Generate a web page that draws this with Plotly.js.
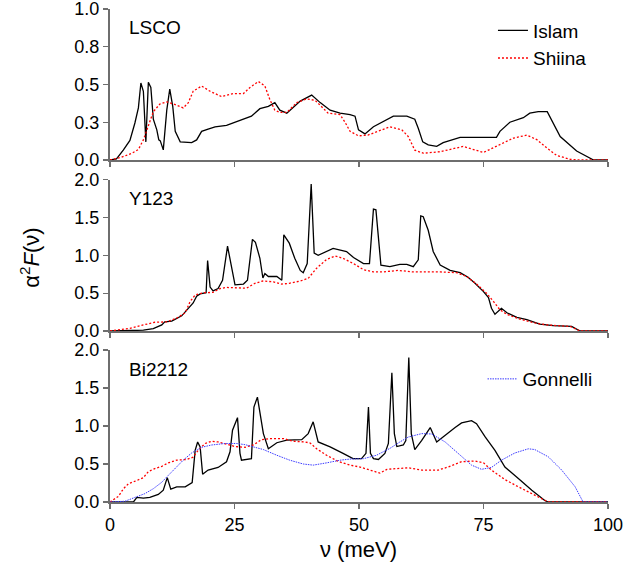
<!DOCTYPE html>
<html>
<head>
<meta charset="utf-8">
<script src="https://cdn.plot.ly/plotly-3.0.1.min.js"></script>
<style>html,body{margin:0;padding:0;background:#fff;}#chart{width:641px;height:571px;}</style>
</head>
<body>
<div id="chart"></div>
<script>
// ---- data ----
const panelNames = ["LSCO", "Y123", "Bi2212"];
const seriesNames = ["Islam", "Shiina", "Gonnelli"];
const xTicks = [0, 25, 50, 75, 100];
const xTickText = ["0", "25", "50", "75", "100"];
const yTicksLSCO = [0, 0.25, 0.5, 0.75, 1.0];
const yTickTextLSCO = ["0.0", "0.3", "0.5", "0.8", "1.0"];
const yTicksOther = [0, 0.5, 1.0, 1.5, 2.0];
const yTickTextOther = ["0.0", "0.5", "1.0", "1.5", "2.0"];

const lscoIslamX = [0,1.3,2.7,4.0,5.0,5.7,6.2,6.7,7.2,7.7,8.2,8.7,9.4,9.8,10.1,10.7,11.4,12.0,12.6,13.1,14.1,16.4,17.4,18.4,19.7,21.1,23.4,25.4,28.4,30.1,31.8,33.1,34.1,35.5,38.2,40.5,42.2,44.2,46.2,48.2,49.2,49.9,51.2,52.9,54.9,56.9,59.6,61.2,61.9,62.8,63.9,65.6,66.9,68.3,70.3,77.6,78.3,80.3,83.0,84.3,86.0,87.8,89.0,90.4,93.7,97.1,100];
const lscoIslamY = [0,0.007,0.067,0.13,0.245,0.345,0.51,0.455,0.12,0.515,0.48,0.27,0.20,0.133,0.127,0.067,0.33,0.47,0.355,0.19,0.12,0.115,0.133,0.19,0.205,0.22,0.23,0.255,0.29,0.34,0.355,0.38,0.33,0.31,0.39,0.43,0.38,0.33,0.31,0.30,0.29,0.20,0.173,0.22,0.255,0.29,0.29,0.27,0.21,0.12,0.10,0.09,0.115,0.13,0.15,0.15,0.19,0.25,0.28,0.31,0.32,0.32,0.245,0.155,0.06,0,0];

const lscoShiinaX = [0,2.3,4.4,5.7,6.7,7.7,8.7,10.0,11.4,13.1,14.7,15.7,16.7,18.4,20.1,22.4,24.8,26.8,28.1,29.8,31.1,32.1,33.1,34.1,35.5,37.5,39.5,41.2,42.5,43.8,46.2,47.2,48.2,49.9,51.8,56.2,58.6,59.9,61.2,62.9,66.3,70.9,75.0,78.3,81.0,83.7,85.7,87.7,89.7,92.4,94,100];
const lscoShiinaY = [0,0.018,0.045,0.07,0.133,0.233,0.32,0.37,0.385,0.367,0.345,0.378,0.455,0.49,0.455,0.42,0.44,0.44,0.48,0.52,0.49,0.40,0.33,0.315,0.315,0.38,0.405,0.395,0.355,0.31,0.30,0.25,0.19,0.16,0.165,0.22,0.20,0.155,0.065,0.045,0.055,0.09,0.05,0.10,0.145,0.165,0.135,0.08,0.03,0.005,0,0];

const y123IslamX = [0,6.7,8.7,10.4,11.0,12.4,14.4,15.7,16.7,17.4,18.1,19.3,19.6,20.1,20.7,21.7,22.6,23.6,24.4,25.1,26.8,27.6,28.6,29.2,30.1,30.7,31.1,31.8,33.5,34.5,34.9,36.0,37.1,38.2,38.8,39.6,40.4,41.0,41.8,44.8,47.5,48.9,50.9,52.1,52.9,53.4,54.4,56.2,58.2,59.6,60.9,61.9,62.4,62.9,63.9,64.9,66.3,68.3,70.3,71.9,73.3,75.0,76.0,76.6,77.3,78.6,79.7,81.7,83.7,86.3,89.0,92.7,94.4,100];
const y123IslamY = [0,0.01,0.03,0.08,0.12,0.13,0.20,0.30,0.37,0.46,0.49,0.505,0.93,0.58,0.53,0.56,0.67,1.12,0.87,0.61,0.62,0.67,1.21,1.17,0.96,0.70,0.76,0.72,0.72,0.67,1.27,1.16,0.96,0.80,0.77,0.89,1.94,1.03,1.00,1.09,1.05,0.97,0.89,0.89,1.61,1.60,0.87,0.85,0.88,0.88,0.85,0.94,1.52,1.51,1.33,1.05,0.87,0.80,0.77,0.71,0.63,0.52,0.44,0.30,0.22,0.30,0.24,0.18,0.15,0.09,0.07,0.06,0,0];

const y123ShiinaX = [0,4.0,6.7,9.0,11.4,13.4,15.1,16.1,17.1,18.7,20.7,22.1,23.4,26.1,27.4,29.1,30.7,32.8,34.5,36.0,38.2,39.8,41.5,43.5,45.2,46.8,48.9,50.9,52.9,54.9,57.9,60.9,66.3,69.6,71.6,73.6,75.6,77.0,78.3,79.7,82.3,85.0,87.7,92.4,94.4,100];
const y123ShiinaY = [0,0.035,0.08,0.115,0.12,0.17,0.24,0.39,0.475,0.505,0.51,0.56,0.575,0.57,0.565,0.63,0.66,0.65,0.62,0.63,0.66,0.695,0.83,0.945,0.99,0.96,0.89,0.81,0.78,0.78,0.80,0.78,0.78,0.77,0.72,0.62,0.50,0.39,0.28,0.22,0.155,0.11,0.08,0.06,0,0];

const biIslamX = [0,4.7,5.4,6.7,8.0,9.7,10.7,11.5,12.2,13.4,15.1,16.5,17.1,17.6,18.1,18.6,19.7,21.7,23.4,24.1,24.6,25.6,26.1,26.4,28.4,28.9,29.6,30.8,31.8,33.5,35.5,38.5,39.8,40.8,41.8,44.2,46.8,48.8,50.5,51.4,51.9,52.3,52.9,53.9,55.2,55.9,56.6,57.1,57.6,58.9,59.4,60.0,60.5,61.2,62.6,64.3,65.6,67.3,69.3,70.6,72.6,73.6,75.3,77.3,79.3,82.0,84.7,87.3,88.0,100];
const biIslamY = [0,0,0.06,0.05,0.06,0.10,0.155,0.32,0.17,0.20,0.20,0.255,0.68,0.79,0.725,0.365,0.42,0.455,0.53,0.66,0.945,1.11,0.64,0.55,0.57,1.25,1.38,0.90,0.70,0.78,0.815,0.82,0.90,1.055,0.79,0.725,0.64,0.57,0.57,0.64,1.25,0.64,0.57,0.56,0.64,0.77,1.70,0.90,0.73,0.75,0.81,1.90,0.90,0.69,0.81,0.98,0.79,0.88,0.98,1.04,1.07,1.03,0.86,0.68,0.46,0.31,0.155,0.02,0,0];

const biShiinaX = [0,1.7,2.7,3.7,5.3,6.7,7.7,9.0,10.4,11.7,13.4,15.4,16.7,17.7,19.1,20.4,21.7,23.4,25.1,27.1,28.8,30.4,32.1,34.8,36.8,39.2,40.2,41.5,43.5,45.8,48.2,50.2,52.2,54.2,55.6,57.2,59.9,62.6,65.9,67.9,70.6,73.3,75.0,76.6,79.3,82.0,84.7,86.7,88.0,100];
const biShiinaY = [0,0.075,0.175,0.24,0.28,0.32,0.40,0.44,0.47,0.515,0.55,0.56,0.59,0.68,0.77,0.80,0.79,0.76,0.73,0.72,0.75,0.82,0.835,0.835,0.80,0.79,0.775,0.70,0.615,0.535,0.485,0.46,0.42,0.38,0.43,0.44,0.45,0.42,0.42,0.46,0.53,0.54,0.515,0.42,0.295,0.20,0.11,0.045,0,0];

const biGonnelliX = [0,3.0,5.0,7.0,8.7,10.4,11.7,13.1,14.7,16.4,18.4,20.4,23.1,25.4,27.1,28.8,30.8,33.5,36.1,38.8,40.8,43.5,46.2,48.2,50.9,53.5,56.2,58.2,59.9,62.6,64.6,67.3,69.9,72.6,74.6,76.6,78.6,81.3,84.0,85.3,88.0,90.7,93.4,95.0,100];
const biGonnelliY = [0,0.01,0.06,0.11,0.175,0.26,0.35,0.44,0.55,0.645,0.72,0.75,0.77,0.77,0.755,0.725,0.69,0.615,0.55,0.50,0.485,0.515,0.55,0.565,0.57,0.615,0.705,0.79,0.855,0.90,0.895,0.79,0.64,0.485,0.43,0.455,0.55,0.645,0.70,0.69,0.595,0.42,0.20,0,0];

// ---- styles ----
const FONT = "Liberation Sans, Arial, sans-serif";
const islamLine = {color: "#000000", width: 1.3, dash: "solid"};
const shiinaLine = {color: "#ff0000", width: 1.3, dash: "2px,2px"};
const gonnelliLine = {color: "#3a3aff", width: 1.0, dash: "1.5px,1px"};

const traces = [
  {x: lscoIslamX, y: lscoIslamY, xaxis: "x3", yaxis: "y3", name: seriesNames[0], mode: "lines", line: islamLine, legend: "legend"},
  {x: lscoShiinaX, y: lscoShiinaY, xaxis: "x3", yaxis: "y3", name: seriesNames[1], mode: "lines", line: shiinaLine, legend: "legend"},
  {x: y123IslamX, y: y123IslamY, xaxis: "x2", yaxis: "y2", name: seriesNames[0], mode: "lines", line: islamLine, showlegend: false},
  {x: y123ShiinaX, y: y123ShiinaY, xaxis: "x2", yaxis: "y2", name: seriesNames[1], mode: "lines", line: shiinaLine, showlegend: false},
  {x: biIslamX, y: biIslamY, xaxis: "x", yaxis: "y", name: seriesNames[0], mode: "lines", line: islamLine, showlegend: false},
  {x: biShiinaX, y: biShiinaY, xaxis: "x", yaxis: "y", name: seriesNames[1], mode: "lines", line: shiinaLine, showlegend: false},
  {x: biGonnelliX, y: biGonnelliY, xaxis: "x", yaxis: "y", name: seriesNames[2], mode: "lines", line: gonnelliLine, legend: "legend2"}
];

const AXCOL = "#6e6e6e";
function xBase(anchor, labels) {
  return {anchor: anchor, domain: [0, 1], range: [0, 100], tickmode: "array", tickvals: xTicks, ticktext: xTickText,
    showticklabels: labels, ticks: "outside", ticklen: 5, tickwidth: 1.2, tickcolor: AXCOL,
    showline: true, linecolor: AXCOL, linewidth: 2, showgrid: false, zeroline: false, ticklabeloverflow: "allow",
    tickfont: {family: FONT, size: 18, color: "#000"}, fixedrange: true};
}
function xTop(anchor, over) {
  return {anchor: anchor, overlaying: over, side: "top", range: [0, 100], tickmode: "array", tickvals: xTicks,
    showticklabels: false, ticks: "inside", ticklen: 5, tickwidth: 1.2, tickcolor: AXCOL,
    showline: true, linecolor: AXCOL, linewidth: 2, showgrid: false, zeroline: false, fixedrange: true};
}
function yBase(anchor, dom, rng, tv, tt) {
  return {anchor: anchor, domain: dom, range: rng, tickmode: "array", tickvals: tv, ticktext: tt,
    ticks: "outside", ticklen: 5, tickwidth: 1.2, tickcolor: AXCOL, ticklabeloverflow: "allow",
    showline: true, linecolor: AXCOL, linewidth: 2, showgrid: false, zeroline: false,
    tickfont: {family: FONT, size: 18, color: "#000"}, fixedrange: true};
}
function yRight(anchor, over, rng, tv) {
  return {anchor: anchor, overlaying: over, side: "right", range: rng, tickmode: "array", tickvals: tv,
    showticklabels: false, ticks: "inside", ticklen: 5, tickwidth: 1.2, tickcolor: AXCOL,
    showline: true, linecolor: AXCOL, linewidth: 2, showgrid: false, zeroline: false, fixedrange: true};
}

const dom1 = [0.6937, 1];
const dom2 = [0.3469, 0.654];
const dom3 = [0, 0.3083];

const layout = {
  width: 641, height: 571,
  margin: {l: 110, r: 33, t: 9, b: 69},
  paper_bgcolor: "#ffffff", plot_bgcolor: "#ffffff",
  font: {family: FONT, size: 18, color: "#000"},
  xaxis: xBase("y", true),
  xaxis2: Object.assign(xBase("y2", false), {matches: "x"}),
  xaxis3: Object.assign(xBase("y3", false), {matches: "x"}),
  xaxis4: xTop("y", "x"),
  xaxis5: xTop("y2", "x2"),
  xaxis6: xTop("y3", "x3"),
  yaxis: yBase("x", dom3, [0, 2], yTicksOther, yTickTextOther),
  yaxis2: yBase("x2", dom2, [0, 2], yTicksOther, yTickTextOther),
  yaxis3: yBase("x3", dom1, [0, 1], yTicksLSCO, yTickTextLSCO),
  yaxis4: yRight("x", "y", [0, 2], yTicksOther),
  yaxis5: yRight("x2", "y2", [0, 2], yTicksOther),
  yaxis6: yRight("x3", "y3", [0, 1], yTicksLSCO),
  legend: {x: 0.769, y: 0.995, xanchor: "left", yanchor: "top", bgcolor: "rgba(0,0,0,0)",
    font: {family: FONT, size: 19, color: "#000"}, tracegroupgap: 0},
  legend2: {x: 0.748, y: 0.288, xanchor: "left", yanchor: "top", bgcolor: "rgba(0,0,0,0)",
    font: {family: FONT, size: 19, color: "#000"}},
  annotations: [
    {xref: "x3", yref: "y3", x: 3.4, y: 0.88, xanchor: "left", yanchor: "middle", text: panelNames[0], showarrow: false, font: {family: FONT, size: 19}},
    {xref: "x2", yref: "y2", x: 3.4, y: 1.75, xanchor: "left", yanchor: "middle", text: panelNames[1], showarrow: false, font: {family: FONT, size: 19}},
    {xref: "x", yref: "y", x: 3.4, y: 1.75, xanchor: "left", yanchor: "middle", text: panelNames[2], showarrow: false, font: {family: FONT, size: 19}},
    {xref: "paper", yref: "paper", x: 0.498, y: -0.097, xanchor: "center", yanchor: "middle", text: "ν (meV)", showarrow: false, font: {family: FONT, size: 22}},
    {xref: "paper", yref: "paper", x: -0.161, y: 0.495, xanchor: "center", yanchor: "middle", textangle: -90, text: "α<sup>2</sup><i>F</i>(ν)", showarrow: false, font: {family: FONT, size: 22}}
  ]
};

Plotly.newPlot("chart", traces, layout, {staticPlot: true, displayModeBar: false});
</script>
</body>
</html>
